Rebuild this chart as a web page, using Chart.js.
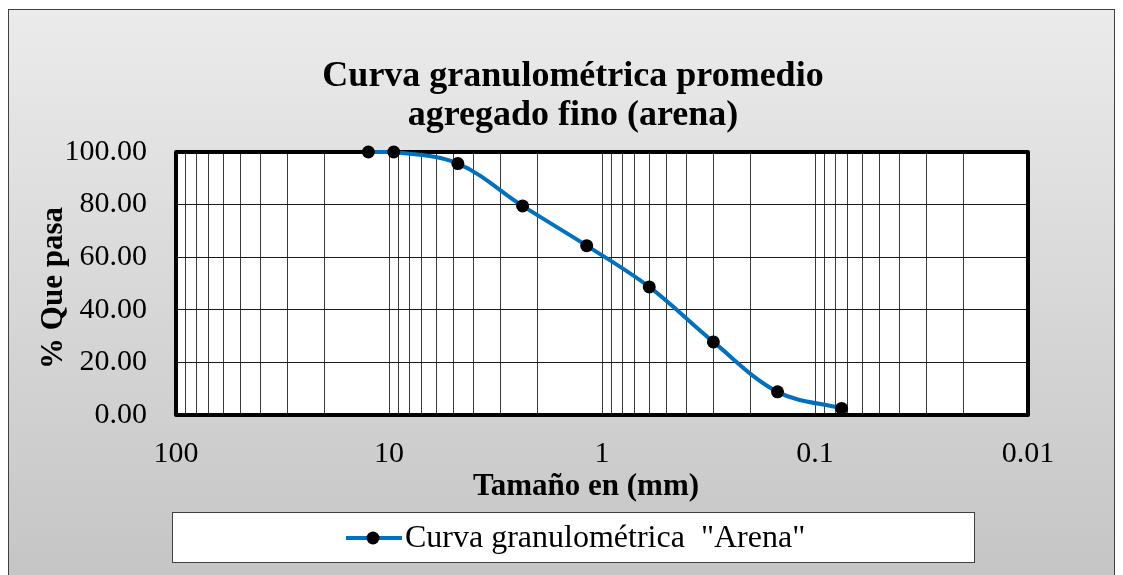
<!DOCTYPE html>
<html>
<head>
<meta charset="utf-8">
<script src="https://cdn.jsdelivr.net/npm/chart.js@4/dist/chart.umd.min.js"></script>
<style>
  html, body { margin: 0; padding: 0; background: #ffffff; }
  canvas { display: block; }
</style>
</head>
<body>
<canvas id="chart" width="1123" height="575"></canvas>
<script>
// Sieve opening (mm) and cumulative percent passing
const sieveSizes = [12.5, 9.5, 4.75, 2.36, 1.18, 0.6, 0.3, 0.15, 0.075];
const percentPassing = [100, 100, 95.6, 79.5, 64.4, 48.7, 27.8, 8.8, 2.5];

// Labelled ticks on the size axis
const xTickValues = [100, 10, 1, 0.1, 0.01];
const xTickLabels = ['100', '10', '1', '0.1', '0.01'];

// Ticks on the percent axis
const yTickValues = [0, 20, 40, 60, 80, 100];

const titleLines = ['Curva granulométrica promedio', 'agregado fino (arena)'];
const xTitle = 'Tamaño en (mm)';
const yTitle = '% Que pasa';
const seriesName = 'Curva granulométrica  "Arena"';

const SERIF = '"Liberation Serif", "Times New Roman", serif';
const LINE_COLOR = '#0070C0';

// Log grid: 1..9 within every decade between 0.01 and 100
const gridValues = [];
[0.01, 0.1, 1, 10].forEach(d => {
  for (let m = 1; m <= 9; m++) gridValues.push(+(d * m).toPrecision(3));
});
gridValues.push(100);

const points = sieveSizes.map((s, i) => ({ x: s, y: percentPassing[i] }));

const framePlugin = {
  id: 'frame',
  beforeDraw(chart) {
    const { ctx, chartArea: a } = chart;
    ctx.save();
    // outer panel with soft vertical gradient
    const g = ctx.createLinearGradient(0, 9, 0, 575);
    g.addColorStop(0, '#ebebeb');
    g.addColorStop(1, '#c5c5c5');
    ctx.fillStyle = g;
    ctx.fillRect(8, 9, 1107, 600);
    ctx.strokeStyle = '#404040';
    ctx.lineWidth = 1;
    ctx.strokeRect(8.5, 9.5, 1106, 600);
    // plot area background
    ctx.fillStyle = '#ffffff';
    ctx.fillRect(a.left, a.top, a.right - a.left, a.bottom - a.top);
    ctx.restore();
  },
  beforeDatasetsDraw(chart) {
    const { ctx, chartArea: a } = chart;
    ctx.save();
    ctx.strokeStyle = '#000000';
    ctx.lineWidth = 4;
    ctx.lineJoin = 'round';
    ctx.strokeRect(a.left, a.top, a.right - a.left, a.bottom - a.top);
    ctx.restore();
  },
  afterDraw(chart) {
    const { ctx } = chart;
    ctx.save();
    ctx.fillStyle = '#000000';
    ctx.textAlign = 'center';
    ctx.textBaseline = 'middle';
    // chart title
    ctx.font = 'bold 36px ' + SERIF;
    ctx.fillText(titleLines[0], 573, 77);
    ctx.fillText(titleLines[1], 573, 116);
    // axis titles
    ctx.font = 'bold 31px ' + SERIF;
    ctx.fillText(xTitle, 586, 487);
    ctx.save();
    ctx.translate(54, 288);
    ctx.rotate(-Math.PI / 2);
    ctx.fillText(yTitle, 0, 0);
    ctx.restore();
    // legend
    ctx.fillStyle = '#ffffff';
    ctx.fillRect(172, 512, 803, 51);
    ctx.strokeStyle = '#404040';
    ctx.lineWidth = 1;
    ctx.strokeRect(172.5, 512.5, 802, 50);
    ctx.strokeStyle = LINE_COLOR;
    ctx.lineWidth = 4;
    ctx.beginPath();
    ctx.moveTo(346, 538);
    ctx.lineTo(402, 538);
    ctx.stroke();
    ctx.fillStyle = '#000000';
    ctx.beginPath();
    ctx.arc(373, 538, 6.5, 0, Math.PI * 2);
    ctx.fill();
    ctx.font = '32px ' + SERIF;
    ctx.textAlign = 'left';
    ctx.fillText(seriesName, 405, 539);
    ctx.restore();
  }
};

new Chart(document.getElementById('chart'), {
  type: 'line',
  data: {
    datasets: [{
      label: seriesName,
      data: points,
      borderColor: LINE_COLOR,
      borderWidth: 4,
      tension: 0.35,
      pointRadius: 6.5,
      pointBackgroundColor: '#000000',
      pointBorderColor: '#000000',
      pointBorderWidth: 0,
      fill: false,
      clip: 8
    }]
  },
  options: {
    responsive: false,
    animation: false,
    devicePixelRatio: 1,
    layout: { padding: { left: 0, right: 95, top: 152, bottom: 0 } },
    plugins: {
      legend: { display: false },
      title: { display: false },
      tooltip: { enabled: false }
    },
    scales: {
      x: {
        type: 'logarithmic',
        reverse: true,
        min: 0.01,
        max: 100,
        afterBuildTicks(scale) {
          scale.ticks = gridValues.map(v => ({ value: v }));
        },
        afterFit(scale) { scale.height = 160; },
        grid: { color: '#3a3a3a', lineWidth: 1, drawTicks: false },
        border: { display: false },
        ticks: {
          autoSkip: false,
          maxRotation: 0,
          minRotation: 0,
          padding: 21,
          color: '#000000',
          font: { family: SERIF, size: 30 },
          callback(v) {
            const i = xTickValues.findIndex(t => Math.abs(t - v) < t * 1e-6);
            return i >= 0 ? xTickLabels[i] : '';
          }
        }
      },
      y: {
        min: 0,
        max: 100,
        afterBuildTicks(scale) {
          scale.ticks = yTickValues.map(v => ({ value: v }));
        },
        afterFit(scale) { scale.width = 176; },
        grid: { color: '#1a1a1a', lineWidth: 1, drawTicks: false },
        border: { display: false },
        ticks: {
          padding: 29,
          color: '#000000',
          font: { family: SERIF, size: 30 },
          callback(v) { return Number(v).toFixed(2); }
        }
      }
    }
  },
  plugins: [framePlugin]
});
</script>
</body>
</html>
